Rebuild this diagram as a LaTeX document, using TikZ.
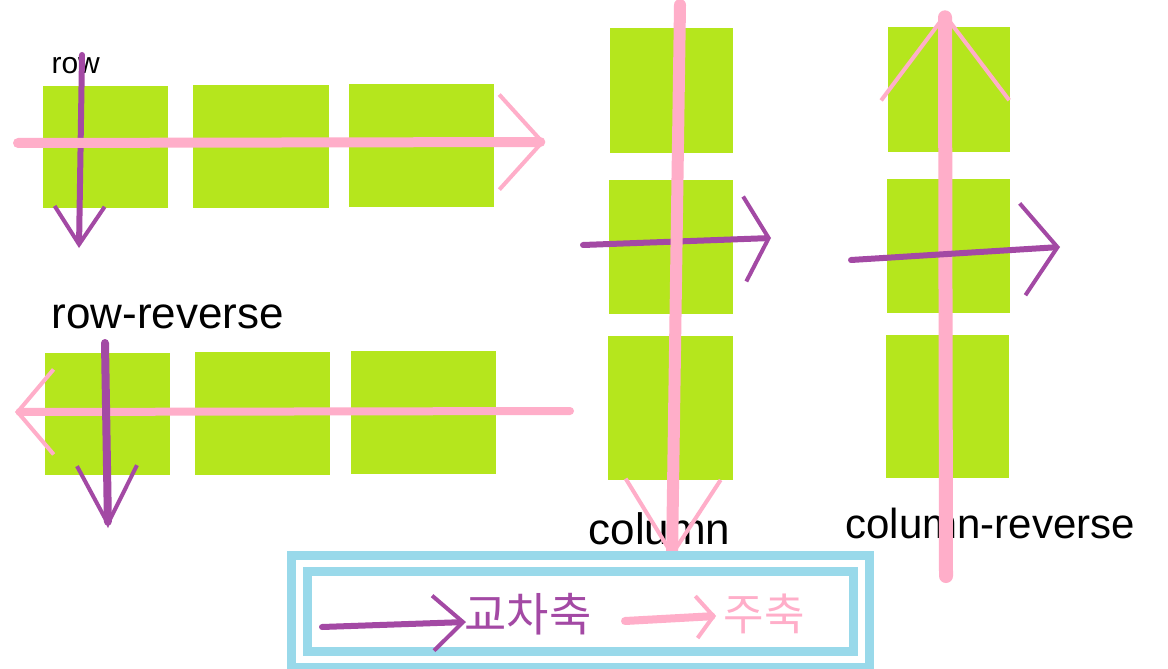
\documentclass[tikz,border=0pt]{standalone}
\usepackage{fontspec}
\setmainfont{Liberation Sans}
\newfontfamily\hangul{Noto Sans CJK KR}
\usetikzlibrary{arrows.meta}
\definecolor{itemgreen}{RGB}{181,230,29}
\definecolor{axispink}{RGB}{255,174,201}
\definecolor{axispurple}{RGB}{163,73,164}
\definecolor{framecyan}{RGB}{153,217,234}
\tikzset{
  item/.style 2 args={fill=itemgreen,inner sep=0pt,minimum width=#1,minimum height=#2},
  mainaxis/.style={draw=axispink,line width=8pt,line cap=round},
  crossaxis/.style={draw=axispurple,line width=6pt,line cap=round},
  barb/.style 2 args={-{Straight Barb[length=#1,width=#2,line width=4pt]}},
  dirname/.style={anchor=base west,font=\fontsize{#1}{#1}\selectfont}
}
\begin{document}
\begin{tikzpicture}[x=1pt,y=-1pt]
\useasboundingbox[fill=white] (0,0) rectangle (1168,669);
\node[item={125pt}{122pt}] (r1a) at (105.5,147) {};
\node[item={136pt}{123pt}] (r1b) at (261,146.5) {};
\node[item={145pt}{123pt}] (r1c) at (421.5,145.5) {};
\node[item={125pt}{122pt}] (r2a) at (107.5,414) {};
\node[item={135pt}{123pt}] (r2b) at (262.5,413.5) {};
\node[item={145pt}{123pt}] (r2c) at (423.5,412.5) {};
\node[item={123pt}{125pt}] (c1a) at (671.5,90.5) {};
\node[item={124pt}{134pt}] (c1b) at (671,247) {};
\node[item={125pt}{144pt}] (c1c) at (670.5,408) {};
\node[item={122pt}{125pt}] (c2a) at (949,89.5) {};
\node[item={123pt}{134pt}] (c2b) at (948.5,246) {};
\node[item={123pt}{143pt}] (c2c) at (947.5,406.5) {};
\node[dirname=30] (rowname) at (48,74) {row};
\node[dirname=44] (rowrevname) at (48,328) {row-reverse};
\node[dirname=44] (colname) at (585,544) {column};
\node[dirname=42] (colrevname) at (842,538) {column-reverse};
\coordinate (r1cs) at (82,55);
\coordinate (r1ce) at (79,248);
\coordinate (r1ms) at (18,143);
\coordinate (r1me) at (545,142);
\coordinate (r2cs) at (105,343);
\coordinate (r2ce) at (108,528);
\coordinate (r2ms) at (570,411);
\coordinate (r2me) at (15,412);
\coordinate (c1cs) at (583,245);
\coordinate (c1ce) at (771,238);
\coordinate (c1ms) at (680,5);
\coordinate (c1me) at (672,558);
\coordinate (c2cs) at (851,260);
\coordinate (c2ce) at (1060,247);
\coordinate (c2ms) at (946,576);
\coordinate (c2me) at (945,12);
\draw[crossaxis,barb={38pt}{50pt}] (r1cs) -- (r1ce);
\draw[mainaxis,line width=10pt,barb={43pt}{95pt}] (r1ms) -- (r1me);
\draw[mainaxis,barb={36pt}{85pt}] (r2ms) -- (r2me);
\draw[crossaxis,line width=8pt,barb={58pt}{60pt}] (r2cs) -- (r2ce);
\draw[crossaxis,barb={24pt}{85pt}] (c1cs) -- (c1ce);
\draw[mainaxis,line width=12pt,barb={75pt}{95pt}] (c1ms) -- (c1me);
\draw[mainaxis,line width=14pt,barb={85pt}{128pt}] (c2ms) -- (c2me);
\draw[crossaxis,barb={35pt}{92pt}] (c2cs) -- (c2ce);
\node[draw=framecyan,double=white,double distance=7pt,line width=9pt,inner sep=0pt,minimum width=562pt,minimum height=96pt] (legend) at (580,611) {};
\node[text=axispurple,font=\hangul\fontsize{46}{46}\selectfont] (crossname) at (528,614) {교차축};
\node[text=axispink,font=\hangul\fontsize{44}{44}\selectfont] (mainname) at (764,614) {주축};
\coordinate (lcs) at (322,627);
\coordinate (lce) at (466,622);
\coordinate (lms) at (625,621);
\coordinate (lme) at (716,616);
\draw[crossaxis,barb={30pt}{55pt}] (lcs) -- (lce);
\draw[mainaxis,barb={17pt}{42pt}] (lms) -- (lme);
\end{tikzpicture}
\end{document}
